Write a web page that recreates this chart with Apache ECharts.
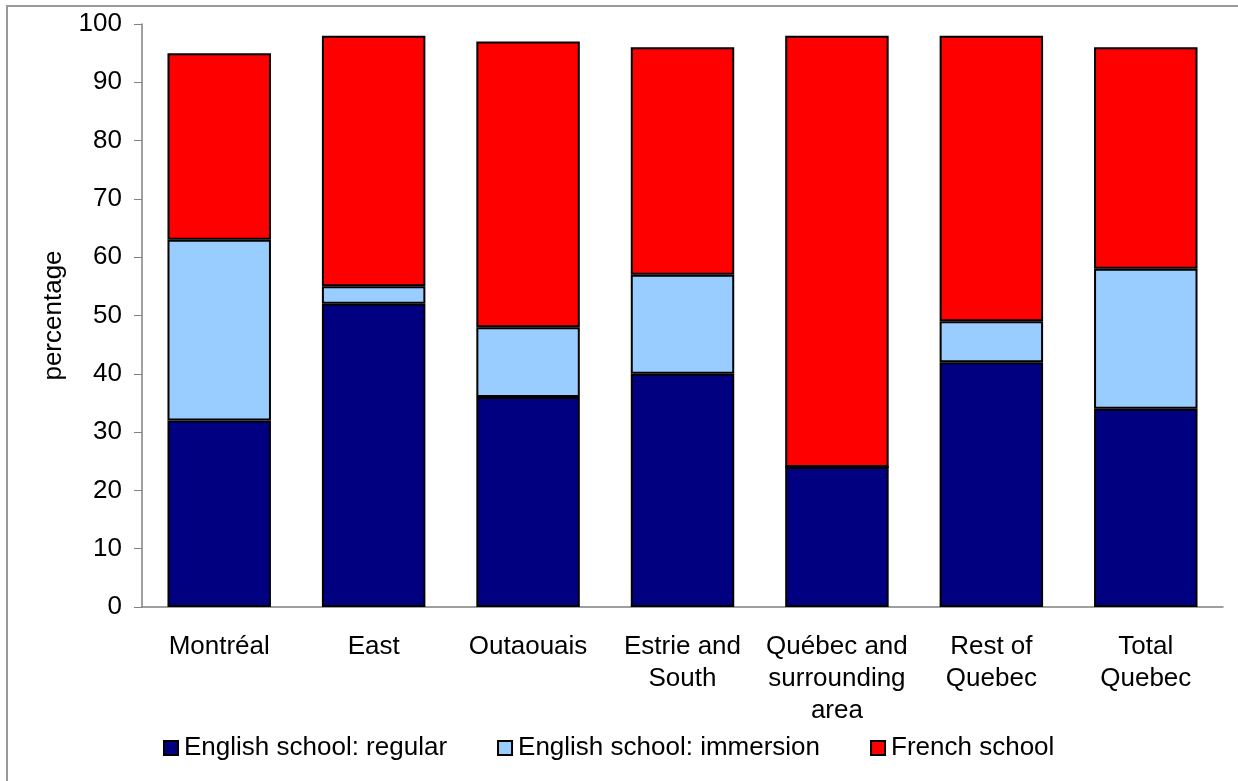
<!DOCTYPE html>
<html>
<head>
<meta charset="utf-8">
<script src="https://cdn.jsdelivr.net/npm/echarts@6/dist/echarts.min.js"></script>
<style>
  html, body { margin: 0; padding: 0; background: #fff; }
  #chart { width: 1238px; height: 781px; }
</style>
</head>
<body>
<div id="chart"></div>
<script>
// regions of Quebec
var categories = ['Montréal', 'East', 'Outaouais', 'Estrie and\nSouth',
    'Québec and\nsurrounding\narea', 'Rest of\nQuebec', 'Total\nQuebec'];
var englishRegular = [32, 52, 36, 40, 24, 42, 34];
var englishImmersion = [31, 3, 12, 17, 0, 7, 24];
var frenchSchool = [32, 43, 49, 39, 74, 49, 38];
var yTicks = [0, 10, 20, 30, 40, 50, 60, 70, 80, 90, 100];

var colors = ['#000080', '#99CCFF', '#FF0000'];
var names = ['English school: regular', 'English school: immersion', 'French school'];

var myChart = echarts.init(document.getElementById('chart'));

function barSeries(i, data) {
    return {
        name: names[i],
        type: 'bar',
        stack: 'total',
        data: data,
        barCategoryGap: '33%',
        itemStyle: {
            color: colors[i],
            borderColor: '#000',
            borderWidth: 2
        },
        emphasis: { disabled: true }
    };
}

myChart.setOption({
    animation: false,
    textStyle: {
        fontFamily: 'Liberation Sans, Arial, sans-serif'
    },
    graphic: [{
        type: 'rect',
        shape: { x: 7, y: 6, width: 1240, height: 790 },
        style: { fill: 'none', stroke: '#999', lineWidth: 2 },
        silent: true
    }],
    grid: {
        left: 142,
        right: 15,
        top: 24,
        bottom: 174
    },
    legend: {
        top: 735,
        left: 163,
        padding: 0,
        itemWidth: 14,
        itemHeight: 14,
        itemGap: 50,
        icon: 'rect',
        textStyle: { fontSize: 26, color: '#000', padding: [0, 0, 0, 1] },
        itemStyle: { borderColor: '#000', borderWidth: 2 },
        data: names
    },
    xAxis: {
        type: 'category',
        data: categories,
        axisLine: { lineStyle: { color: '#808080', width: 1.5 } },
        axisTick: { show: false },
        axisLabel: {
            fontSize: 26,
            color: '#000',
            margin: 24,
            lineHeight: 32,
            interval: 0
        }
    },
    yAxis: {
        type: 'value',
        min: yTicks[0],
        max: yTicks[yTicks.length - 1],
        interval: 10,
        name: 'percentage',
        nameLocation: 'middle',
        nameGap: 75,
        nameRotate: 90,
        nameTextStyle: { fontSize: 26, color: '#000' },
        splitLine: { show: false },
        axisLine: { show: true, lineStyle: { color: '#808080', width: 1.5 } },
        axisTick: { show: true, inside: false, length: 8, lineStyle: { color: '#808080' } },
        axisLabel: { fontSize: 26, color: '#000', margin: 20 }
    },
    series: [
        barSeries(0, englishRegular),
        barSeries(1, englishImmersion),
        barSeries(2, frenchSchool)
    ]
});
</script>
</body>
</html>
